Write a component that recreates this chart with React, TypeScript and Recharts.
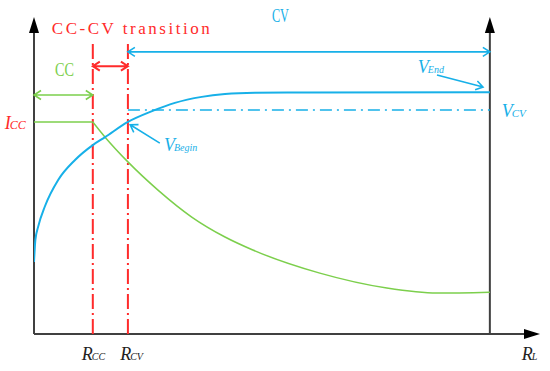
import React from 'react';
import { ComposedChart, Line, XAxis, YAxis, ReferenceLine, ReferenceDot } from 'recharts';

const BLUE = '#17b0e8';
const GREEN = '#7ccf4c';
const RED = '#ff2b2b';
const AXIS = '#404040';

// Key resistances (x) and levels (y), arbitrary units
const R_CC = 1.29;
const R_CV = 2.06;
const R_END = 10;
const X_MAX = 11.1;
const Y_MAX = 10;
const I_CC = 6.69;
const V_CV = 7.07;

// Output voltage curve (blue)
const voltageCurve = [
  { x: 0, y: 2.27 },
  { x: 0.03, y: 2.97 },
  { x: 0.09, y: 3.38 },
  { x: 0.24, y: 4.03 },
  { x: 0.53, y: 4.86 },
  { x: 0.9, y: 5.49 },
  { x: 1.29, y: 5.96 },
  { x: 1.56, y: 6.21 },
  { x: 2.06, y: 6.69 },
  { x: 2.59, y: 7.03 },
  { x: 3.09, y: 7.29 },
  { x: 3.68, y: 7.48 },
  { x: 4.19, y: 7.57 },
  { x: 4.85, y: 7.61 },
  { x: 6.0, y: 7.62 },
  { x: 10, y: 7.63 },
];

// Output current (green): constant, then decaying
const currentFlat = [
  { x: 0, y: I_CC },
  { x: R_CC, y: I_CC },
];
const currentDecay = [
  { x: R_CC, y: I_CC },
  { x: 1.56, y: 6.21 },
  { x: 2.06, y: 5.43 },
  { x: 2.72, y: 4.54 },
  { x: 3.46, y: 3.69 },
  { x: 4.19, y: 3.06 },
  { x: 4.8, y: 2.65 },
  { x: 6.27, y: 1.92 },
  { x: 7.74, y: 1.45 },
  { x: 8.84, y: 1.29 },
  { x: 10, y: 1.32 },
];

// Annotation arrows levels
const Y_CV_ARROW = 8.9;
const Y_TRANS_ARROW = 8.45;
const Y_CC_ARROW = 7.54;
const Y_DASH_TOP = 9.21;

type P = { x1: number; y1: number; x2: number; y2: number; stroke?: string };

function unit(p: P) {
  const dx = p.x2 - p.x1;
  const dy = p.y2 - p.y1;
  const len = Math.sqrt(dx * dx + dy * dy) || 1;
  return { ux: dx / len, uy: dy / len };
}

function chevron(tx: number, ty: number, ux: number, uy: number, L: number, W: number) {
  const bx = tx - ux * L;
  const by = ty - uy * L;
  const nx = -uy;
  const ny = ux;
  return `M${bx + nx * W},${by + ny * W}L${tx},${ty}L${bx - nx * W},${by - ny * W}`;
}

const makeArrow = (color: string, width: number, both: boolean) => (p: P) => {
  const { ux, uy } = unit(p);
  let d = `M${p.x1},${p.y1}L${p.x2},${p.y2}` + chevron(p.x2, p.y2, ux, uy, 7, 4.5);
  if (both) d += chevron(p.x1, p.y1, -ux, -uy, 7, 4.5);
  return <path d={d} stroke={color} strokeWidth={width} fill="none" />;
};

const axisArrow = (p: P) => {
  const { ux, uy } = unit(p);
  const L = 16;
  const W = 5;
  const bx = p.x2 - ux * L;
  const by = p.y2 - uy * L;
  const nx = -uy;
  const ny = ux;
  return (
    <g>
      <line x1={p.x1} y1={p.y1} x2={bx} y2={by} stroke={AXIS} strokeWidth={2} />
      <path d={`M${bx + nx * W},${by + ny * W}L${p.x2},${p.y2}L${bx - nx * W},${by - ny * W}Z`} fill="#000" />
    </g>
  );
};

const dashed = (color: string, width: number, dash: string) => (p: P) => (
  <line x1={p.x1} y1={p.y1} x2={p.x2} y2={p.y2} stroke={color} strokeWidth={width} strokeDasharray={dash} />
);

const SERIF = "'Liberation Serif', 'Times New Roman', serif";

const plainText = (txt: string, color: string, size: number, len: number, adjust: string) => (p: any) => (
  <text x={p.cx} y={p.cy} fill={color} fontFamily={SERIF} fontSize={size} textLength={len} lengthAdjust={adjust}>
    {txt}
  </text>
);

const subText = (main: string, sub: string, color: string, mainSize: number, subSize: number) => (p: any) => (
  <text x={p.cx} y={p.cy} fill={color} fontFamily={SERIF} fontStyle="italic">
    <tspan fontSize={mainSize}>{main}</tspan>
    <tspan fontSize={subSize} dx={-1}>{sub}</tspan>
  </text>
);

const labels = [
  { x: 0.39, y: 9.46, shape: plainText('CC-CV transition', RED, 17, 158, 'spacing') },
  { x: 0.46, y: 8.14, shape: plainText('CC', GREEN, 18, 19, 'spacingAndGlyphs') },
  { x: 5.22, y: 9.84, shape: plainText('CV', BLUE, 18, 17, 'spacingAndGlyphs') },
  { x: -0.64, y: 6.47, shape: subText('I', 'CC', RED, 18, 12) },
  { x: 1.05, y: -0.82, shape: subText('R', 'CC', '#222', 18, 10) },
  { x: 1.89, y: -0.82, shape: subText('R', 'CV', '#222', 18, 10) },
  { x: 10.7, y: -0.82, shape: subText('R', 'L', '#222', 18, 10) },
  { x: 8.42, y: 8.23, shape: subText('V', 'End', BLUE, 18, 10) },
  { x: 10.26, y: 6.85, shape: subText('V', 'CV', BLUE, 18, 11) },
  { x: 2.85, y: 5.77, shape: subText('V', 'Begin', BLUE, 18, 10) },
];

export default function App() {
  return (
    <div style={{ position: 'absolute', left: 0, top: 0, background: '#fff' }}>
      <ComposedChart width={550} height={371} margin={{ top: 17, right: 10, left: 34, bottom: 37 }}>
        <XAxis type="number" dataKey="x" domain={[0, X_MAX]} allowDataOverflow hide />
        <YAxis type="number" dataKey="y" domain={[0, Y_MAX]} allowDataOverflow hide />

        {/* axes */}
        <ReferenceLine ifOverflow="visible" segment={[{ x: 0, y: 0 }, { x: 0, y: Y_MAX }]} shape={axisArrow} />
        <ReferenceLine ifOverflow="visible" segment={[{ x: 0, y: 0 }, { x: X_MAX, y: 0 }]} shape={axisArrow} />
        <ReferenceLine ifOverflow="visible" segment={[{ x: R_END, y: 0 }, { x: R_END, y: Y_MAX }]} shape={axisArrow} />

        {/* red transition boundaries */}
        <ReferenceLine ifOverflow="visible" segment={[{ x: R_CC, y: 0 }, { x: R_CC, y: Y_DASH_TOP }]} shape={dashed(RED, 2, '15 4 2 4')} />
        <ReferenceLine ifOverflow="visible" segment={[{ x: R_CV, y: 0 }, { x: R_CV, y: Y_DASH_TOP }]} shape={dashed(RED, 2, '15 4 2 4')} />

        {/* V_CV level */}
        <ReferenceLine ifOverflow="visible" segment={[{ x: R_CV, y: V_CV }, { x: R_END, y: V_CV }]} shape={dashed(BLUE, 1.5, '12 5 2 5')} />

        {/* region arrows */}
        <ReferenceLine ifOverflow="visible" segment={[{ x: R_CV, y: Y_CV_ARROW }, { x: R_END, y: Y_CV_ARROW }]} shape={makeArrow(BLUE, 1.6, true)} />
        <ReferenceLine ifOverflow="visible" segment={[{ x: R_CC, y: Y_TRANS_ARROW }, { x: R_CV, y: Y_TRANS_ARROW }]} shape={makeArrow(RED, 2, true)} />
        <ReferenceLine ifOverflow="visible" segment={[{ x: 0, y: Y_CC_ARROW }, { x: R_CC, y: Y_CC_ARROW }]} shape={makeArrow(GREEN, 1.6, true)} />

        {/* pointer arrows */}
        <ReferenceLine ifOverflow="visible" segment={[{ x: 8.84, y: 8.17 }, { x: 9.85, y: 7.79 }]} shape={makeArrow(BLUE, 1.6, false)} />
        <ReferenceLine ifOverflow="visible" segment={[{ x: 2.76, y: 6.02 }, { x: 2.11, y: 6.6 }]} shape={makeArrow(BLUE, 1.6, false)} />

        <Line data={currentFlat} dataKey="y" type="linear" stroke={GREEN} strokeWidth={1.5} dot={false} isAnimationActive={false} />
        <Line data={currentDecay} dataKey="y" type="monotone" stroke={GREEN} strokeWidth={1.5} dot={false} isAnimationActive={false} />
        <Line data={voltageCurve} dataKey="y" type="monotone" stroke={BLUE} strokeWidth={2} dot={false} isAnimationActive={false} />

        {labels.map((l, i) => (
          <ReferenceDot key={i} x={l.x} y={l.y} r={0} ifOverflow="visible" shape={l.shape} />
        ))}
      </ComposedChart>
    </div>
  );
}
